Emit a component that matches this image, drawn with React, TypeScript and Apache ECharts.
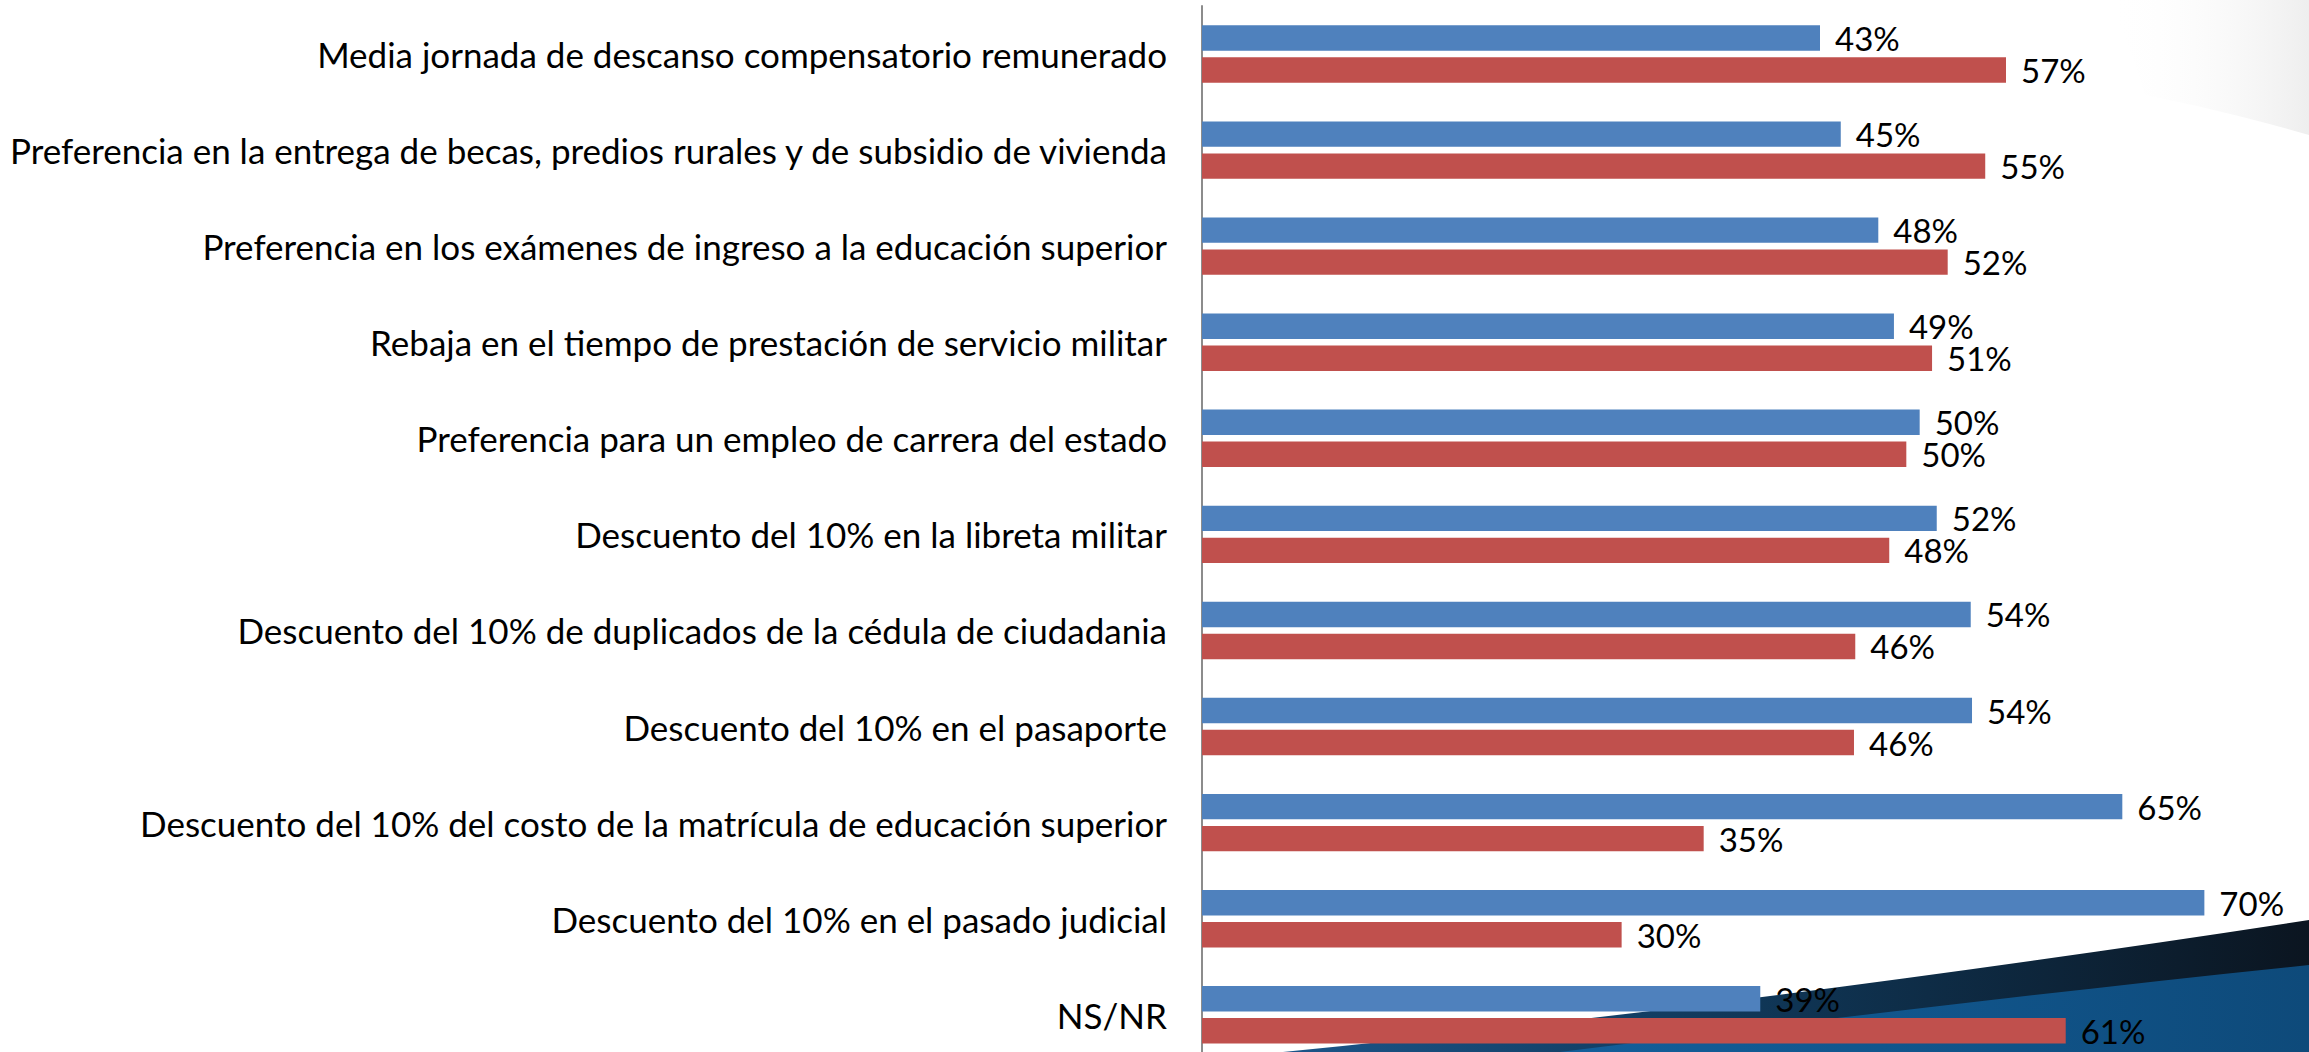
import React, { useEffect, useRef } from "react";
import * as echarts from "echarts";

const categories: string[] = [
  "Media jornada de descanso compensatorio remunerado",
  "Preferencia en la entrega de becas, predios rurales y de subsidio de vivienda",
  "Preferencia en los exámenes de ingreso a la educación superior",
  "Rebaja en el tiempo de prestación de servicio militar",
  "Preferencia para un empleo de carrera del estado",
  "Descuento del 10% en la libreta militar",
  "Descuento del 10% de duplicados de la cédula de ciudadania",
  "Descuento del 10% en el pasaporte",
  "Descuento del 10% del costo de la matrícula de educación superior",
  "Descuento del 10% en el pasado judicial",
  "NS/NR",
];

const blueValues: number[] = [43.46, 44.92, 47.56, 48.66, 50.47, 51.67, 54.06, 54.15, 64.72, 70.49, 39.26];
const redValues: number[] = [56.54, 55.08, 52.44, 51.34, 49.53, 48.33, 45.94, 45.85, 35.28, 29.51, 60.74];

const FONT = "Lato, 'Open Sans', sans-serif";

echarts.graphic.registerShape(
  "swooshOuter",
  echarts.graphic.extendPath("M1283 1052 C 1600 1020, 1950 975, 2309 920 L 2309 1052 Z", {})
);
echarts.graphic.registerShape(
  "swooshInner",
  echarts.graphic.extendPath("M1560 1052 C 1800 1022, 2050 992, 2309 965 L 2309 1052 Z", {})
);
echarts.graphic.registerShape(
  "greySwoosh",
  echarts.graphic.extendPath("M2110 0 L 2309 0 L 2309 135 C 2250 118, 2200 106, 2145 95 C 2135 60, 2122 30, 2110 0 Z", {})
);

export default function App() {
  const ref = useRef<HTMLDivElement>(null);
  useEffect(() => {
    if (!ref.current) return;
    const chart = echarts.init(ref.current, undefined, { renderer: "svg" });
    const fmt = (p: any) => Math.round(p.value) + "%";
    chart.setOption({
      animation: false,
      backgroundColor: "#ffffff",
      graphic: [
        {
          type: "greySwoosh",
          z: 0,
          silent: true,
          style: {
            fill: new echarts.graphic.LinearGradient(0, 0, 1, 0, [
              { offset: 0, color: "rgba(255,255,255,0)" },
              { offset: 1, color: "#eeeeee" },
            ]),
          },
        },
        {
          type: "swooshOuter",
          z: 0,
          silent: true,
          style: {
            fill: new echarts.graphic.LinearGradient(0, 0, 1, 0, [
              { offset: 0, color: "#1b5589" },
              { offset: 0.5, color: "#0f3453" },
              { offset: 1, color: "#0b1520" },
            ]),
          },
        },
        {
          type: "swooshInner",
          z: 0,
          silent: true,
          style: {
            fill: new echarts.graphic.LinearGradient(0, 0, 1, 0, [
              { offset: 0, color: "#135f9b" },
              { offset: 1, color: "#0e4a7a" },
            ]),
          },
        },
      ],
      grid: {
        left: 1202,
        right: 12.06,
        top: 5.96,
        bottom: -10.84,
        containLabel: false,
        outerBoundsMode: "none",
      },
      xAxis: {
        type: "value",
        min: 0,
        max: 77,
        show: false,
        splitLine: { show: false },
      },
      yAxis: {
        type: "category",
        data: categories,
        inverse: true,
        axisTick: { show: false },
        axisLine: { show: true, lineStyle: { color: "#8c8c8c", width: 2 } },
        axisLabel: {
          color: "#000000",
          fontSize: 35,
          fontFamily: FONT,
          margin: 35,
        },
      },
      series: [
        {
          type: "bar",
          name: "Sí",
          data: blueValues,
          barWidth: 25.4,
          barGap: "26%",
          itemStyle: { color: "#4F81BD" },
          label: {
            show: true,
            position: "right",
            distance: 15,
            formatter: fmt,
            color: "#000000",
            fontSize: 33,
            lineHeight: 30,
            fontFamily: FONT,
          },
        },
        {
          type: "bar",
          name: "No",
          data: redValues,
          barWidth: 25.4,
          barGap: "26%",
          itemStyle: { color: "#C0504D" },
          label: {
            show: true,
            position: "right",
            distance: 15,
            formatter: fmt,
            color: "#000000",
            fontSize: 33,
            lineHeight: 30,
            fontFamily: FONT,
          },
        },
      ],
    });
    return () => chart.dispose();
  }, []);
  return (
    <div
      ref={ref}
      style={{ position: "absolute", left: 0, top: 0, width: 2309, height: 1052 }}
    />
  );
}
